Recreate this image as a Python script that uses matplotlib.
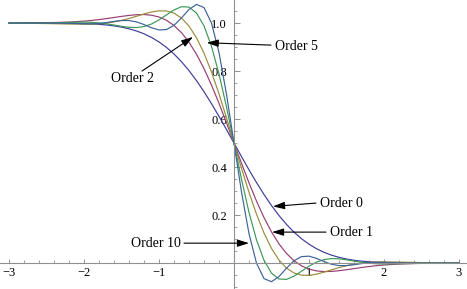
import matplotlib
matplotlib.use("Agg")
import matplotlib.pyplot as plt
from matplotlib.ticker import FixedLocator, MultipleLocator, NullFormatter

# ---- data ----
x = [-3.0, -2.5, -2.2, -2.0, -1.9, -1.8, -1.7, -1.6, -1.5, -1.4, -1.3, -1.2, -1.1,
     -1.0, -0.9, -0.8, -0.7, -0.6, -0.5, -0.4, -0.3, -0.2, -0.1, 0.0,
     0.1, 0.2, 0.3, 0.4, 0.5, 0.6, 0.7, 0.8, 0.9, 1.0, 1.1, 1.2, 1.3, 1.4,
     1.5, 1.6, 1.7, 1.8, 1.9, 2.0, 2.2, 2.5, 3.0]

order0 = [1.0, 0.9998, 0.9991, 0.9977, 0.9964, 0.9945, 0.9919, 0.9882, 0.9830, 0.9761,
          0.9670, 0.9552, 0.9401, 0.9213, 0.8984, 0.8710, 0.8389, 0.8019, 0.7602, 0.7142,
          0.6643, 0.6113, 0.5562, 0.5,
          0.4438, 0.3887, 0.3357, 0.2858, 0.2398, 0.1981, 0.1611, 0.1290, 0.1016, 0.0787,
          0.0599, 0.0448, 0.0330, 0.0239, 0.0170, 0.0118, 0.0081, 0.0055, 0.0036, 0.0023,
          0.0009, 0.0002, 0.0]

order1 = [1.0, 1.0012, 1.0040, 1.0080, 1.0109, 1.0144, 1.0185, 1.0231, 1.0277, 1.0318,
          1.0347, 1.0354, 1.0326, 1.0251, 1.0114, 0.9900, 0.9599, 0.9200, 0.8701, 0.8103,
          0.7416, 0.6656, 0.5842, 0.5,
          0.4158, 0.3344, 0.2584, 0.1897, 0.1299, 0.0800, 0.0401, 0.0100, -0.0114, -0.0251,
          -0.0326, -0.0354, -0.0347, -0.0318, -0.0277, -0.0231, -0.0185, -0.0144, -0.0109,
          -0.0080, -0.0040, -0.0012, 0.0]

order2 = [0.9998, 0.9979, 0.9958, 0.9951, 0.9956, 0.9971, 1.0000, 1.0046, 1.0109, 1.0190,
          1.0282, 1.0378, 1.0461, 1.0511, 1.0504, 1.0412, 1.0210, 0.9873, 0.9387, 0.8748,
          0.7962, 0.7051, 0.6050, 0.5,
          0.3950, 0.2949, 0.2038, 0.1252, 0.0613, 0.0127, -0.0210, -0.0412, -0.0504, -0.0511,
          -0.0461, -0.0378, -0.0282, -0.0190, -0.0109, -0.0046, 0.0000, 0.0029, 0.0044,
          0.0049, 0.0042, 0.0021, 0.0002]

order5 = [1.0, 1.0002, 1.0028, 1.0038, 1.0029, 1.0006, 0.9968, 0.9918, 0.9864, 0.9823,
          0.9813, 0.9855, 0.9961, 1.0130, 1.0340, 1.0545, 1.0680, 1.0664, 1.0418, 0.9883,
          0.9032, 0.7884, 0.6505, 0.5,
          0.3495, 0.2116, 0.0968, 0.0117, -0.0418, -0.0664, -0.0680, -0.0545, -0.0340, -0.0130,
          0.0039, 0.0145, 0.0187, 0.0177, 0.0136, 0.0082, 0.0032, -0.0006, -0.0029,
          -0.0038, -0.0028, -0.0002, 0.0]

order10 = [1.0, 1.0, 0.9992, 0.9967, 0.9966, 0.9984, 1.0021, 1.0069, 1.0105, 1.0105,
           1.0048, 0.9937, 0.9804, 0.9712, 0.9730, 0.9903, 1.0214, 1.0563, 1.0776, 1.0646,
           1.0002, 0.8773, 0.7035, 0.5,
           0.2965, 0.1227, -0.0002, -0.0646, -0.0776, -0.0563, -0.0214, 0.0097, 0.0270, 0.0288,
           0.0196, 0.0063, -0.0048, -0.0105, -0.0105, -0.0069, -0.0021, 0.0016, 0.0034,
           0.0033, 0.0008, 0.0, 0.0]

series = [order0, order1, order2, order5, order10]
colors = ["#3d3d99", "#993d71", "#998c3d", "#3d9957", "#3d6399"]

x_ticks = [-3, -2, -1, 1, 2, 3]
x_tick_labels = ["\u22123", "\u22122", "\u22121", "1", "2", "3"]
y_ticks = [0.2, 0.4, 0.6, 0.8, 1.0]
y_tick_labels = ["0.2", "0.4", "0.6", "0.8", "1.0"]

labels = ["Order 0", "Order 1", "Order 2", "Order 5", "Order 10"]
# (text position, alignment, arrow tail, arrow tip)
label_pos = [(1.147, 0.250), (1.280, 0.129), (-1.353, 0.767), (0.547, 0.901), (-0.707, 0.083)]
label_ha = ["left", "left", "center", "left", "right"]
arrow_tail = [(1.093, 0.250), (1.227, 0.129), (-1.227, 0.800), (0.493, 0.908), (-0.667, 0.083)]
arrow_tip = [(0.520, 0.236), (0.507, 0.129), (-0.547, 0.942), (-0.364, 0.918), (0.200, 0.083)]

plt.rcParams["font.family"] = ["Liberation Serif", "DejaVu Serif"]

fig = plt.figure(figsize=(4.67, 2.89), dpi=100)
ax = fig.add_axes([0, 0, 1, 1])
ax.set_xlim(-3.12, 3.107)
ax.set_ylim(-0.108, 1.096)

for ys, c in zip(series, colors):
    ax.plot(x, ys, color=c, lw=0.85, solid_joinstyle="round")

axis_col = "#8f8f8f"
for s in ["top", "right"]:
    ax.spines[s].set_visible(False)
ax.spines["left"].set_position(("data", 0))
ax.spines["bottom"].set_position(("data", 0))
for s in ["left", "bottom"]:
    ax.spines[s].set_color(axis_col)
    ax.spines[s].set_linewidth(0.8)

ax.xaxis.set_major_locator(FixedLocator(x_ticks))
ax.set_xticklabels(x_tick_labels)
ax.xaxis.set_minor_locator(MultipleLocator(0.2))
ax.yaxis.set_major_locator(FixedLocator(y_ticks))
ax.set_yticklabels(y_tick_labels)
ax.yaxis.set_minor_locator(MultipleLocator(0.05))
ax.xaxis.set_minor_formatter(NullFormatter())
ax.yaxis.set_minor_formatter(NullFormatter())

ax.tick_params(axis="x", which="major", direction="in", length=3.2, width=0.7,
               color=axis_col, labelsize=9, pad=3)
ax.tick_params(axis="y", which="major", direction="in", length=4.0, width=0.7,
               color=axis_col, labelsize=9, pad=5)
ax.tick_params(which="minor", direction="in", length=2.0, width=0.6, color=axis_col)

for lab, pos, ha, tail, tip in zip(labels, label_pos, label_ha, arrow_tail, arrow_tip):
    ax.text(pos[0], pos[1], lab, ha=ha, va="center", fontsize=10, color="black")
    ax.annotate("", xy=tip, xytext=tail,
                arrowprops=dict(arrowstyle="-|>,head_length=0.7,head_width=0.22",
                                color="black", lw=0.8, shrinkA=0, shrinkB=0,
                                mutation_scale=10))

fig.savefig("out.png", dpi=100)
